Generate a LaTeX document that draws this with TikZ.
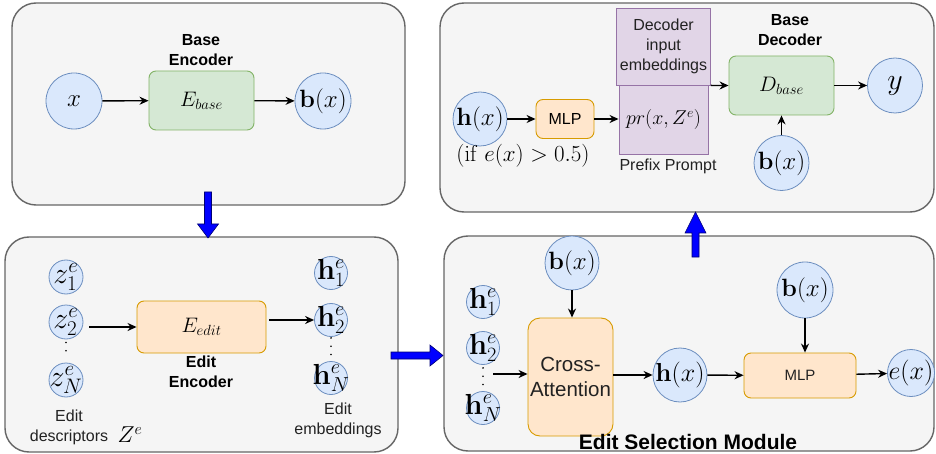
\RequirePackage{fix-cm}
\documentclass[tikz,border=0pt]{standalone}
\usepackage[no-math]{fontspec}
\setmainfont{Liberation Sans}
\usetikzlibrary{arrows.meta,calc}
\definecolor{panelfill}{HTML}{F5F5F5}
\definecolor{panelline}{HTML}{666666}
\definecolor{bluefill}{HTML}{DAE8FC}
\definecolor{blueline}{HTML}{6C8EBF}
\definecolor{greenfill}{HTML}{D5E8D4}
\definecolor{greenline}{HTML}{82B366}
\definecolor{orangefill}{HTML}{FFE6CC}
\definecolor{orangeline}{HTML}{D79B00}
\definecolor{purplefill}{HTML}{E1D5E7}
\definecolor{purpleline}{HTML}{9673A6}
\definecolor{txtgray}{HTML}{222222}
\newcommand\fsz[2]{\fontsize{#1}{#2}\selectfont}
\begin{document}
\begin{tikzpicture}[x=1pt,y=-1pt,
  panel/.style={draw=panelline,fill=panelfill,line width=1.4pt,rounded corners=24pt},
  circ/.style={circle,draw=blueline,fill=bluefill,line width=0.8pt,inner sep=0pt,minimum size=#1},
  gbox/.style={draw=greenline,fill=greenfill,line width=0.9pt,rounded corners=7pt},
  obox/.style={draw=orangeline,fill=orangefill,line width=0.9pt,rounded corners=7pt},
  pbox/.style={draw=purpleline,fill=purplefill,line width=0.9pt},
  arr/.style={-{Stealth[length=9pt,width=8pt]},line width=1.4pt},
  lbl/.style={font=\fsz{16}{20},align=center,text=txtgray},
  blbl/.style={font=\fsz{16}{20}\bfseries,align=center},
  bigarrow/.style={fill=blue,draw=blue!45!black,line width=0.6pt},
  vdots/.style={line width=1.8pt,line cap=round,dash pattern=on 0pt off 8.3pt}
]
\useasboundingbox (0,0) rectangle (936,454);

% panels
\draw[panel] (12,3) rectangle (405,205);
\draw[panel] (440,3) rectangle (934,212);
\draw[panel] (5,237) rectangle (398,452);
\draw[panel] (444,236) rectangle (934,451);

% ---------- Base Encoder ----------
\node[circ=56pt,label={[font=\fsz{25}{30}]center:{$x$}}] (x) at (74,101) {};
\node[gbox,minimum width=105pt,minimum height=59pt,font=\fsz{21}{25}] (Eb) at (201.5,100.5) {$E_{base}$};
\node[circ=56pt,label={[font=\fsz{25}{30}]center:{$\mathbf{b}(x)$}}] (bx1) at (323,101) {};
\node[blbl] (benc) at (201,50) {Base\\Encoder};
\draw[arr] (x) -- (Eb);
\draw[arr] (Eb) -- (bx1);

% ---------- Base Decoder ----------
\node[circ=54pt,label={[font=\fsz{25}{30}]center:{$\mathbf{h}(x)$}}] (hx2) at (480,119) {};
\node[font=\fsz{23}{27}] (cond) at (523,156) {$(\mathrm{if}\;e(x)>0.5)$};
\node[obox,minimum width=58pt,minimum height=39pt,font=\fsz{16}{19}] (mlp1) at (565,119) {MLP};
\node[pbox,minimum width=89pt,minimum height=77pt,lbl] (die) at (663.5,46.5) {Decoder\\input\\embeddings};
\node[pbox,minimum width=89pt,minimum height=69pt,font=\fsz{20}{24}] (pr) at (663.5,119.5) {$pr(x,Z^e)$};
\node[lbl] (pp) at (668,166) {Prefix Prompt};
\node[blbl] (bdec) at (790,30) {Base\\Decoder};
\node[gbox,minimum width=105pt,minimum height=59pt,font=\fsz{21}{25}] (Db) at (781.5,85.5) {$D_{base}$};
\node[circ=55pt,label={[font=\fsz{30}{34}]center:{$y$}}] (y) at (895,85.5) {};
\node[circ=55pt,label={[font=\fsz{25}{30}]center:{$\mathbf{b}(x)$}}] (bx2) at (781.5,163) {};
\draw[arr] (hx2) -- (mlp1);
\draw[arr] (mlp1) -- (pr.west |- mlp1);
\draw[arr] (die.south east) -- (Db.west);
\draw[arr] (Db) -- (y);
\draw[arr] (bx2) -- (Db);

% ---------- Edit Encoder ----------
\node[circ=34pt,label={[font=\fsz{30}{34}]center:{$z^e_1$}}] (z1) at (66,277) {};
\node[circ=34pt,label={[font=\fsz{30}{34}]center:{$z^e_2$}}] (z2) at (66,322) {};
\node[circ=34pt,label={[font=\fsz{30}{34}]center:{$z^e_N$}}] (zN) at (66,380) {};
\draw[vdots] ($(z2.south)+(0,3)$) -- ($(zN.north)+(0,-4)$);
\node[obox,minimum width=129pt,minimum height=52pt,font=\fsz{21}{25}] (Ee) at (201.5,327) {$E_{edit}$};
\node[blbl] (eenc) at (201,372) {Edit\\Encoder};
\node[circ=33pt,label={[font=\fsz{29}{33}]center:{$\mathbf{h}^e_1$}}] (h1) at (331,273) {};
\node[circ=33pt,label={[font=\fsz{29}{33}]center:{$\mathbf{h}^e_2$}}] (h2) at (331,320) {};
\node[circ=33pt,label={[font=\fsz{29}{33}]center:{$\mathbf{h}^e_N$}}] (hN) at (331,378) {};
\draw[vdots] ($(h2.south)+(0,1)$) -- ($(hN.north)+(0,-6)$);
\draw[arr] ([xshift=6pt]z2.east |- Ee.west) -- (Ee.west);
\draw[arr] ([xshift=3pt]Ee.east |- h2) -- (h2);
\node[lbl] (edesc) at (69,427.5) {Edit\\descriptors};
\node[font=\fsz{23}{27}] (Ze) at (130,435) {$Z^e$};
\node[lbl] (eemb) at (338,420.5) {Edit\\embeddings};

% ---------- Edit Selection Module ----------
\node[circ=54pt,label={[font=\fsz{25}{30}]center:{$\mathbf{b}(x)$}}] (bx3) at (572,263) {};
\node[obox,rounded corners=12pt,inner xsep=1pt,minimum width=85pt,minimum height=118pt,font=\fsz{20.5}{25},align=center,text=txtgray] (ca) at (570.5,377) {Cross-\\Attention};
\node[circ=33pt,label={[font=\fsz{29}{33}]center:{$\mathbf{h}^e_1$}}] (h1b) at (483,302) {};
\node[circ=33pt,label={[font=\fsz{29}{33}]center:{$\mathbf{h}^e_2$}}] (h2b) at (483,348) {};
\node[circ=33pt,label={[font=\fsz{29}{33}]center:{$\mathbf{h}^e_N$}}] (hNb) at (483,408) {};
\draw[vdots] ($(h2b.south)+(0,3)$) -- ($(hNb.north)+(0,-6)$);
\coordinate (hin) at (493,374);
\draw[arr] (hin) -- (hin -| ca.west);
\draw[arr] (bx3) -- (bx3 |- ca.north);
\node[circ=54pt,label={[font=\fsz{26}{31}]center:{$\mathbf{h}(x)$}}] (hx3) at (680,375) {};
\draw[arr] (ca.east |- hx3) -- (hx3);
\node[obox,minimum width=112pt,minimum height=45pt,font=\fsz{15}{18},text=txtgray] (mlp2) at (800,375.5) {MLP};
\draw[arr] (hx3) -- (mlp2);
\node[circ=56pt,label={[font=\fsz{25}{30}]center:{$\mathbf{b}(x)$}}] (bx4) at (805,290) {};
\draw[arr] (bx4) -- (bx4 |- mlp2.north);
\node[circ=47pt,label={[font=\fsz{26}{31}]center:{$e(x)$}}] (ex) at (911,373) {};
\draw[arr] (mlp2) -- (ex);
\node[font=\fsz{21}{25}\bfseries] (esm) at (688,442) {Edit Selection Module};

% ---------- big blue arrows between panels ----------
\draw[bigarrow] (204.5,192) -- (211.5,192) -- (211.5,224) -- (218.5,224) -- (208,238) -- (197.5,224) -- (204.5,224) -- cycle;
\draw[bigarrow] (391,352) -- (430,352) -- (430,345) -- (443,355.5) -- (430,366) -- (430,359) -- (391,359) -- cycle;
\draw[bigarrow] (692,257) -- (692,233) -- (685,233) -- (695.5,212) -- (706,233) -- (699,233) -- (699,257) -- cycle;
\end{tikzpicture}
\end{document}
